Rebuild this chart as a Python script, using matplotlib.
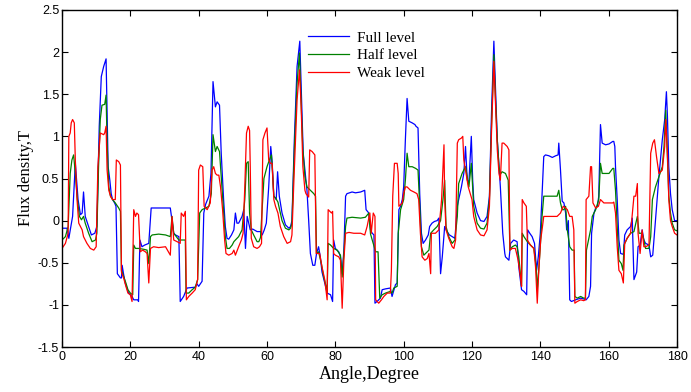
import matplotlib
matplotlib.use("Agg")
import matplotlib.pyplot as plt
import numpy as np

# ---- Full level (blue) ----
full_angle = [0,1.5,2,3.1,3.9,4.7,5.4,5.9,6.3,6.8,7.8,8.6,9.6,10.2,10.9,11.5,12.2,12.9,13.5,14,14.4,14.8,15.4,15.8,16.2,17.1,17.4,17.6,18,18.5,19.5,20.5,21,22.2,22.4,22.8,23.4,24.2,25.4,26.1,31.7,32.2,32.7,33.2,34.2,34.6,35.6,36.6,39,39.5,40,41,41.5,42,43,43.6,44.2,44.9,45.4,46.1,46.6,47.3,47.8,48.3,48.8,49.6,50.3,50.75,51.2,51.7,52.7,53.2,53.7,54.2,55.1,55.8,57.1,58.1,58.6,59.2,59.8,60.5,61.1,61.5,62,62.7,63.1,63.6,64.4,65.4,66.4,66.9,67.3,68,68.8,69.6,70.1,70.6,71.2,71.7,72.2,72.7,73.4,74,74.5,75.1,75.6,76.1,76.9,77.6,78.6,79.2,79.5,80,81,81.5,82,82.5,83,83.4,84.9,85.9,87.4,88.6,89,89.8,90.3,90.8,91.3,91.6,92.2,93.2,93.7,94.7,96.1,96.6,97.6,98.1,98.6,99.1,99.6,100,100.5,101,101.5,102.5,103.3,103.6,104.2,104.7,105.2,105.7,106.4,107.2,107.6,108.3,109,109.8,110.3,110.8,111.3,112,112.7,113.4,114.2,115,115.7,116.1,116.9,117.6,118.1,118.6,119.1,119.8,120.2,120.5,121.5,122.5,123.5,124.4,125.1,125.7,126.4,126.9,127.4,127.9,128.3,129,129.6,129.8,130.8,131.3,132.2,133.2,133.7,134.5,135.2,136,136.3,136.9,137.6,138.3,138.9,139.4,140,140.5,141,141.5,142.5,143.5,144.5,145.2,145.4,145.9,146.4,146.9,147.4,147.7,148.2,148.6,149.1,150.3,151.8,152.7,153.4,154.2,154.7,155,155.7,156.2,156.7,157.1,157.6,158.1,159.1,160.1,161.2,161.5,161.8,162,162.5,163,163.5,164.3,164.7,165.4,166.4,166.9,167.4,168.2,168.6,169.2,169.8,170.3,170.8,171.8,172.3,172.9,173.4,174,174.7,175.7,176.4,176.9,177.2,177.6,178.1,178.6,179.3,180]
full_flux = [-0.09,-0.09,-0.21,0.05,0.68,0.25,0.07,0.09,0.34,0.05,-0.07,-0.17,-0.15,-0.07,1.12,1.71,1.83,1.92,0.64,0.48,0.32,0.25,0.21,0.17,-0.63,-0.68,-0.68,-0.53,-0.63,-0.74,-0.86,-0.9,-0.94,-0.94,-0.96,-0.23,-0.31,-0.29,-0.27,0.15,0.15,0.0,-0.15,-0.17,-0.19,-0.96,-0.9,-0.8,-0.79,-0.75,-0.78,-0.72,0.09,0.19,0.29,0.56,1.65,1.35,1.41,1.37,0.8,0.25,-0.07,-0.21,-0.22,-0.17,-0.11,0.09,-0.03,-0.03,0.05,0.13,-0.33,0.05,-0.11,-0.1,-0.13,-0.13,-0.17,-0.11,-0.03,0.4,0.88,0.7,0.29,0.25,0.58,0.29,0.09,-0.05,-0.09,-0.07,0.0,0.96,1.83,2.13,1.47,0.8,0.56,0.36,0.0,-0.39,-0.53,-0.53,-0.39,-0.31,-0.43,-0.61,-0.74,-0.86,-0.88,-0.96,-0.23,-0.33,-0.37,-0.43,-0.63,-0.35,0.29,0.32,0.34,0.33,0.34,0.36,0.13,0.09,-0.11,-0.15,-0.17,-0.98,-0.96,-0.92,-0.82,-0.81,-0.8,-0.9,-0.76,-0.74,0.13,0.17,0.25,0.4,0.96,1.45,1.18,1.16,1.14,1.12,1.1,0.32,-0.15,-0.27,-0.23,-0.17,-0.07,-0.03,-0.01,0.0,0.03,-0.63,-0.43,-0.07,-0.13,-0.17,-0.19,-0.21,0.17,0.25,0.4,0.56,0.88,0.48,0.46,1.0,0.48,0.25,0.09,0.0,-0.01,0.05,0.29,1.27,2.13,1.55,0.96,0.64,0.4,-0.15,-0.39,-0.43,-0.47,-0.27,-0.23,-0.25,-0.55,-0.82,-0.84,-0.88,-0.11,-0.15,-0.19,-0.27,-0.59,-0.43,-0.15,0.32,0.76,0.78,0.77,0.75,0.77,0.78,0.92,0.6,0.23,0.21,0.09,-0.11,0.0,-0.94,-0.96,-0.94,-0.92,-0.93,-0.94,-0.9,-0.78,-0.15,0.09,0.15,0.17,0.29,1.14,0.92,0.9,0.91,0.94,0.94,0.88,0.64,0.25,-0.23,-0.39,-0.4,-0.17,-0.11,-0.07,0.03,-0.7,-0.61,-0.31,-0.29,-0.11,-0.23,-0.27,-0.29,-0.43,-0.41,-0.15,0.17,0.52,0.96,1.2,1.53,1.24,0.64,0.32,0.13,0.0,0.0]

# ---- Half level (green) ----
half_angle = [0,1,1.8,2.4,2.9,3.4,3.9,4.4,5.1,5.7,6.3,6.8,7.8,8.8,9.8,10.2,10.7,11.2,11.7,12.5,12.9,13.2,13.7,14.2,14.8,15.6,16.6,17.1,17.4,18.1,18.7,19.3,20,20.7,21,21.5,22.4,23.9,24.9,25.4,25.9,26.4,28.3,30.3,31.7,32.2,32.7,34.2,36.1,36.3,37.1,38.1,39,39.7,40.3,41,42,43,43.7,44.2,44.9,45.4,46.1,46.6,47.3,47.8,48.3,49,49.8,50.3,50.75,51.7,52.7,53.5,54,54.5,54.9,55.4,56.1,57.1,57.6,58.1,59.1,60,60.7,61.3,62,62.5,63.2,64.4,65.4,66.4,66.9,67.3,68,68.8,69.5,70,70.5,71.1,71.7,72.7,73.7,74.2,74.5,75.1,75.9,76.6,77.3,77.6,77.9,78.6,79.5,80.5,81.5,82,82.5,83,83.4,84.9,87.4,88.8,89.8,90.3,90.8,91.8,92.5,93,93.7,94.7,96.1,96.6,97.1,98.1,98.4,99.1,100,100.5,101,101.5,102.5,103.5,104.2,104.7,105.2,105.9,106.9,107.4,107.9,108.8,109.8,110.8,111.5,112,112.4,113.2,114.2,115,115.7,116.1,117.1,118.1,118.6,119.1,119.8,120.2,120.5,121.5,122.5,123.5,124.4,125.1,125.7,126.4,126.9,127.4,127.9,128.3,128.8,129.8,130.6,131.1,131.8,132.7,133.2,133.7,134.5,134.7,135.2,136.2,137.1,138.1,138.8,139.1,139.6,140.1,140.5,141,141.5,143,144.9,145.4,145.9,146.4,146.9,147.4,147.9,148.6,149.3,149.9,150.1,150.8,151.8,152.7,153.2,153.5,154.2,154.7,155.2,156.2,157.1,157.6,158.1,159.1,160.1,161.2,161.5,162,162.5,163,163.7,164.2,164.5,165.4,166.4,167.4,168.4,168.9,169.8,170.3,170.8,171.8,172.3,172.8,173.7,174.7,175.7,176.2,176.7,177.2,177.6,178.1,178.6,179.3,180]
half_flux = [-0.23,-0.19,-0.07,0.56,0.72,0.78,0.56,0.29,0.05,0.01,0.05,-0.03,-0.15,-0.25,-0.23,-0.15,0.64,1.2,1.37,1.38,1.49,0.92,0.4,0.29,0.25,0.21,0.15,0.11,-0.59,-0.67,-0.74,-0.82,-0.86,-0.88,-0.29,-0.33,-0.33,-0.34,-0.35,-0.51,-0.19,-0.17,-0.16,-0.17,-0.19,0.05,-0.15,-0.23,-0.23,-0.86,-0.86,-0.82,-0.79,-0.7,0.09,0.13,0.15,0.17,0.32,1.02,0.82,0.88,0.82,0.52,0.09,-0.19,-0.33,-0.33,-0.29,-0.25,-0.23,-0.19,-0.11,0.25,0.68,0.7,0.09,-0.11,-0.17,-0.25,-0.25,-0.2,0.5,0.64,0.72,0.78,0.29,0.27,0.22,0.0,-0.09,-0.11,-0.09,-0.03,0.84,1.63,1.99,1.39,0.84,0.52,0.4,0.36,0.32,0.29,-0.39,-0.37,-0.51,-0.67,-0.78,-0.86,-0.27,-0.29,-0.33,-0.35,-0.41,-0.67,-0.39,-0.07,0.03,0.04,0.03,0.04,0.09,-0.16,-0.23,-0.37,-0.37,-0.92,-0.88,-0.86,-0.84,-0.86,-0.8,-0.78,-0.15,0.13,0.25,0.48,0.8,0.64,0.64,0.62,0.6,0.17,-0.31,-0.41,-0.37,-0.35,-0.15,-0.11,-0.07,0.0,0.25,0.48,-0.07,-0.19,-0.27,-0.23,0.05,0.44,0.56,0.64,0.52,0.4,0.68,0.4,0.17,-0.03,-0.09,-0.1,-0.03,0.25,1.12,1.97,1.43,0.96,0.64,0.55,0.58,0.56,0.48,-0.35,-0.31,-0.29,-0.31,-0.43,-0.78,-0.15,-0.19,-0.25,-0.29,-0.33,-0.55,-0.82,-0.55,-0.23,0.05,0.29,0.29,0.29,0.29,0.36,0.21,0.13,0.13,0.17,-0.11,-0.31,-0.35,-0.35,-0.9,-0.92,-0.9,-0.92,-0.92,-0.35,-0.21,-0.11,0.05,0.13,0.25,0.68,0.56,0.56,0.56,0.62,0.62,0.36,-0.07,-0.47,-0.51,-0.59,-0.29,-0.21,-0.15,-0.13,0.05,-0.15,-0.15,-0.23,-0.33,-0.33,-0.19,0.25,0.4,0.52,0.64,0.88,1.31,0.76,0.29,0.09,-0.03,-0.11,-0.12]

# ---- Weak level (red) ----
weak_angle = [0,1,1.8,2,2.4,2.7,3.1,3.6,3.9,4.4,4.9,5.4,5.9,6.3,7.3,8.3,9.3,10,10.5,11.2,12.2,12.5,12.9,13.2,13.7,14.2,14.8,15.6,15.9,16.6,17.1,17.4,18.1,18.7,19.3,20,20.5,21,21.5,21.9,22.4,22.9,23.6,24.4,24.9,25.4,25.9,26.8,28.3,30.3,31.7,32.2,32.7,33.7,34.6,34.9,35.6,36.1,36.4,37.1,38.1,39,39.7,40,40.5,41.2,41.6,42.5,43.4,43.9,44.4,44.9,45.4,45.9,46.4,47,47.6,48,48.8,49.8,50.3,50.75,51.7,52.5,53,53.5,54,54.5,54.9,55.1,55.4,56.1,57.1,57.8,58.4,58.8,59.4,60,60.5,61,61.5,62,62.5,63.2,63.9,64.9,65.9,66.9,67.3,67.8,68.8,69.5,70,70.5,71.1,71.4,72.2,72.5,73.2,74,74.4,74.9,75.4,76.1,76.9,77.6,77.9,78.4,78.9,79.2,79.5,80,81,81.5,82,82.5,83,84,85.4,87.4,88.6,89.3,90.1,90.5,91.1,91.6,91.8,92.7,93.5,94.2,95.2,96.1,96.4,96.8,97.3,97.6,98.1,98.4,98.6,99.6,100,100.5,101,102,103,103.9,104.4,104.9,105.4,106.2,106.9,107.4,107.9,108.1,108.8,109.3,110.3,111.1,111.8,112,112.4,113.2,114.2,114.7,115.2,115.7,116.1,116.9,117.3,117.6,118.1,118.9,119.5,120,120.5,121.5,122.5,123.5,124.4,125.1,125.7,126.4,126.9,127.4,127.9,128.3,128.8,129.3,130.3,130.8,131.1,131.8,132.7,133.5,134.2,134.5,134.7,135.2,135.9,136.2,137.1,138.1,138.6,139.1,139.6,140.1,140.5,141,141.9,143.5,144.9,145.9,146.7,147.4,147.9,148.6,149.3,149.8,150.1,150.8,151.8,152.7,153.2,153.4,154.2,154.7,155,155.4,156.2,157,157.6,158.6,160.1,161.2,161.5,162,162.5,163,163.7,164.3,164.7,165.4,166.4,167.4,167.9,168.4,168.6,169.2,169.8,170.3,170.8,171.8,172.3,172.9,173.4,174,174.7,175.7,176.4,176.7,177.2,177.6,178.1,178.6,179.3,180]
weak_flux = [-0.33,-0.27,-0.15,1.0,1.04,1.16,1.2,1.16,0.72,0.25,-0.03,-0.07,-0.11,-0.19,-0.27,-0.33,-0.35,-0.31,0.64,1.04,1.02,1.04,1.12,0.6,0.36,0.29,0.25,0.25,0.72,0.7,0.66,-0.61,-0.69,-0.78,-0.86,-0.88,-0.96,0.13,0.05,0.09,0.07,-0.37,-0.35,-0.37,-0.39,-0.74,-0.33,-0.31,-0.32,-0.31,-0.41,0.05,-0.23,-0.25,-0.27,0.09,0.05,0.11,-0.94,-0.9,-0.86,-0.82,-0.7,0.6,0.66,0.64,0.17,0.13,0.21,0.6,0.64,0.56,0.54,0.54,0.4,0.13,-0.23,-0.39,-0.41,-0.39,-0.35,-0.41,-0.31,-0.23,-0.15,0.4,1.04,1.12,1.07,0.64,-0.21,-0.31,-0.33,-0.31,-0.27,0.96,1.04,1.1,0.72,0.68,0.68,0.25,0.17,0.09,-0.07,-0.19,-0.27,-0.25,-0.17,0.4,1.43,1.79,1.35,0.64,0.36,0.32,0.28,0.84,0.82,0.78,-0.39,-0.39,-0.39,-0.55,-0.7,-0.94,0.13,0.11,0.09,0.11,-0.39,-0.41,-0.43,-0.47,-1.04,-0.47,-0.15,-0.14,-0.15,-0.15,-0.17,-0.07,0.09,-0.15,0.09,0.05,-0.94,-0.98,-0.94,-0.9,-0.86,-0.86,-0.6,0.29,0.68,0.68,0.68,0.56,0.17,0.21,0.32,0.4,0.4,0.36,0.34,0.32,0.25,-0.15,-0.43,-0.47,-0.45,-0.39,-0.63,-0.15,-0.15,-0.15,-0.11,0.25,0.9,0.25,-0.11,-0.21,-0.31,-0.33,-0.23,0.92,0.96,0.98,1.0,0.72,0.6,0.4,0.32,0.25,0.05,-0.11,-0.17,-0.18,-0.11,0.17,1.04,1.89,1.35,0.84,0.56,0.48,0.92,0.92,0.88,0.84,-0.35,-0.33,-0.33,-0.47,-0.67,-0.78,0.25,0.21,0.17,-0.23,-0.29,-0.33,-0.55,-0.98,-0.55,-0.23,-0.11,0.05,0.05,0.05,0.05,0.09,0.17,0.15,0.13,0.05,0.05,-0.11,-0.98,-0.96,-0.94,-0.95,-0.94,0.25,0.29,0.64,0.64,0.21,0.15,0.17,0.25,0.21,0.21,0.21,0.22,0.09,-0.31,-0.59,-0.63,-0.74,-0.27,-0.21,-0.15,0.29,0.29,0.44,-0.15,-0.39,-0.11,-0.31,-0.31,-0.29,0.8,0.92,0.96,0.76,0.56,0.6,0.88,1.2,0.8,0.25,0.0,-0.07,-0.15,-0.17]

series_labels = ["Full level", "Half level", "Weak level"]
x_ticks = [0, 20, 40, 60, 80, 100, 120, 140, 160, 180]
y_ticks = [-1.5, -1, -0.5, 0, 0.5, 1, 1.5, 2, 2.5]

fig = plt.figure(figsize=(6.91, 3.92), dpi=100)
ax = fig.add_axes([62/691, 1-347/392, (677-62)/691, (347-10)/392])

ax.plot(full_angle, full_flux, color="#0000ff", lw=0.9, label=series_labels[0])
ax.plot(half_angle, half_flux, color="#008000", lw=0.9, label=series_labels[1])
ax.plot(weak_angle, weak_flux, color="#ff0000", lw=0.9, label=series_labels[2])

ax.set_xlim(0, 180)
ax.set_ylim(-1.5, 2.5)
ax.set_xticks(x_ticks)
ax.set_yticks(y_ticks)
ax.set_yticklabels([("%g" % v) for v in y_ticks])
ax.tick_params(direction="in", top=True, right=True, length=4, width=0.8,
               labelsize=9)
ax.tick_params(axis="y", pad=2)
ax.tick_params(axis="x", pad=3)
for lab in ax.get_xticklabels() + ax.get_yticklabels():
    lab.set_family("Liberation Sans")
for s in ax.spines.values():
    s.set_linewidth(1.0)

ax.set_xlabel("Angle,Degree", family="Liberation Serif", fontsize=13, labelpad=2)
ax.set_ylabel("Flux density,T", family="Liberation Serif", fontsize=12, labelpad=3)

leg = ax.legend(loc="upper left", bbox_to_anchor=(308/691, 1-31/392),
                bbox_transform=fig.transFigure, frameon=False,
                prop={"family": "Liberation Serif", "size": 11},
                handlelength=2.7, handletextpad=0.5, labelspacing=0.26,
                borderaxespad=0, borderpad=0)

fig.savefig("out.png", dpi=100)
